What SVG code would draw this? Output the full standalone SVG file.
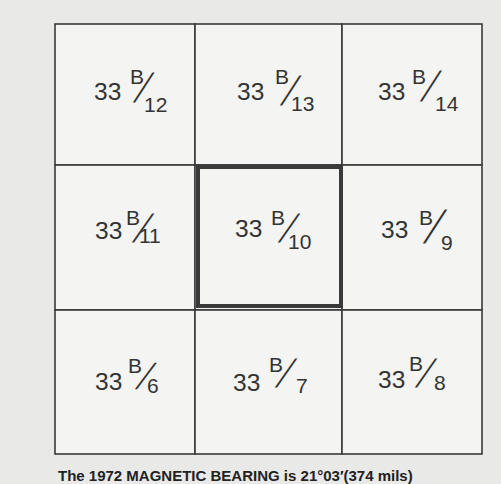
<svg xmlns="http://www.w3.org/2000/svg" width="501" height="484" viewBox="0 0 501 484">
<style>
.bg{fill:#e9e9e7}
.cell{fill:#f4f4f2;stroke:#3a3a3a;stroke-width:1.6}
.thick{fill:none;stroke:#3a3a3a;stroke-width:4}
text{font-family:"Liberation Sans",Arial,sans-serif;fill:#333}
.n{font-size:24.5px}
.b{font-size:21px}
.s{font-size:21px}
.sl{font-size:28px}
.cap{font-size:15px;fill:#222;font-weight:bold}
</style>
<rect class="bg" x="0" y="0" width="501" height="484"/>
<g id="cell-12">
<rect class="cell" x="55" y="24" width="140" height="141"/>
<text class="n" x="94" y="100">33</text>
<text class="b" x="130" y="84">B</text>
<text class="sl" transform="translate(133,102) skewX(-25) scale(1,1.45)">/</text>
<text class="s" x="144" y="112">12</text>
</g>
<g id="cell-13">
<rect class="cell" x="195" y="24" width="147" height="141"/>
<text class="n" x="237" y="100">33</text>
<text class="b" x="275" y="84">B</text>
<text class="sl" transform="translate(280,105) skewX(-25) scale(1,1.45)">/</text>
<text class="s" x="291" y="111">13</text>
</g>
<g id="cell-14">
<rect class="cell" x="342" y="24" width="140" height="141"/>
<text class="n" x="378" y="100">33</text>
<text class="b" x="412" y="84">B</text>
<text class="sl" transform="translate(420,101) skewX(-25) scale(1,1.5)">/</text>
<text class="s" x="435" y="111">14</text>
</g>
<g id="cell-11">
<rect class="cell" x="55" y="165" width="140" height="145"/>
<text class="n" x="95" y="239">33</text>
<text class="b" x="126" y="225">B</text>
<text class="sl" transform="translate(132,242) skewX(-27) scale(1,1.4)">/</text>
<text class="s" x="139" y="243">11</text>
</g>
<g id="cell-10">
<rect class="cell" x="195" y="165" width="147" height="145"/>
<text class="n" x="235" y="237">33</text>
<text class="b" x="271" y="225">B</text>
<text class="sl" transform="translate(278,242) skewX(-27) scale(1,1.4)">/</text>
<text class="s" x="288" y="249">10</text>
</g>
<g id="cell-9">
<rect class="cell" x="342" y="165" width="140" height="145"/>
<text class="n" x="381" y="238">33</text>
<text class="b" x="419" y="225">B</text>
<text class="sl" transform="translate(423,243) skewX(-25) scale(1.1,1.65)">/</text>
<text class="s" x="441" y="250">9</text>
</g>
<g id="cell-6">
<rect class="cell" x="55" y="310" width="140" height="144"/>
<text class="n" x="95" y="390">33</text>
<text class="b" x="128" y="373">B</text>
<text class="sl" transform="translate(135,389) skewX(-28) scale(1,1.3)">/</text>
<text class="s" x="147" y="393">6</text>
</g>
<g id="cell-7">
<rect class="cell" x="195" y="310" width="147" height="144"/>
<text class="n" x="233" y="391">33</text>
<text class="b" x="269" y="372">B</text>
<text class="sl" transform="translate(275,387) skewX(-27) scale(1,1.4)">/</text>
<text class="s" x="296" y="393">7</text>
</g>
<g id="cell-8">
<rect class="cell" x="342" y="310" width="140" height="144"/>
<text class="n" x="378" y="388">33</text>
<text class="b" x="409" y="371">B</text>
<text class="sl" transform="translate(415,387) skewX(-27) scale(1,1.4)">/</text>
<text class="s" x="434" y="390">8</text>
</g>
<g id="center-outline">
<rect class="thick" x="198" y="167" width="143" height="139"/>
</g>
<text class="cap" x="58" y="481">The 1972 MAGNETIC BEARING is 21°03′(374 mils)</text>
</svg>
